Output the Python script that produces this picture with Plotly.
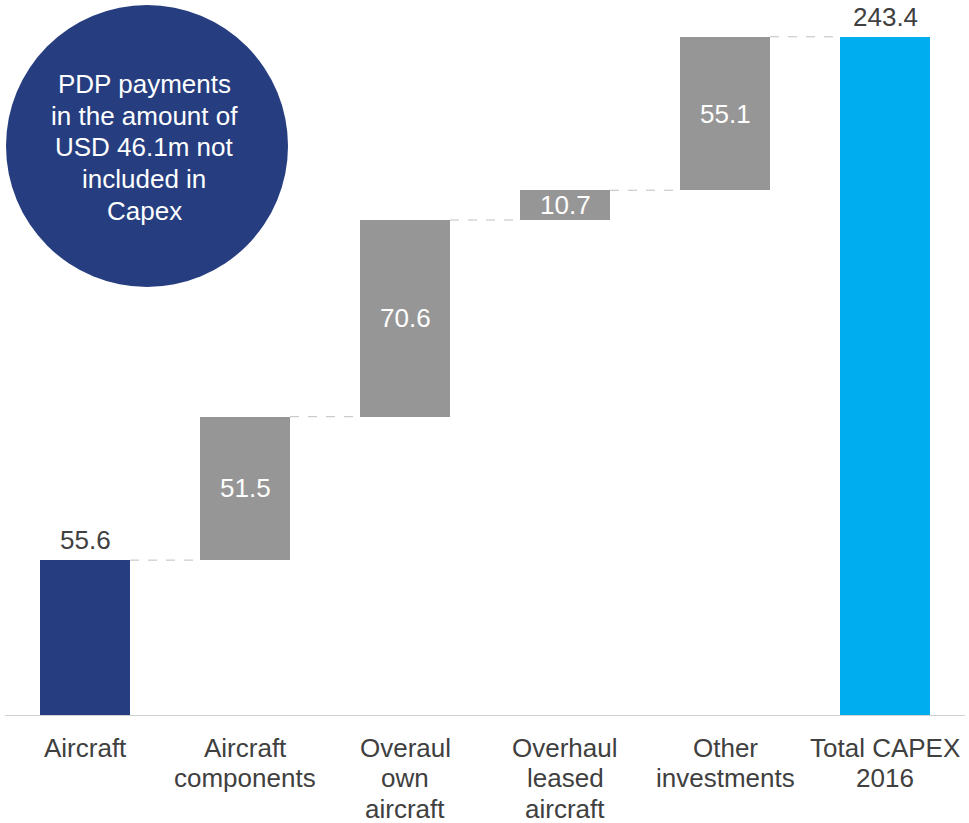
import plotly.graph_objects as go

# Capex bridge data (USD m)
categories = [["Aircraft"], ["Aircraft", "components"], ["Overaul", "own", "aircraft"],
              ["Overhaul", "leased", "aircraft"], ["Other", "investments"],
              ["Total CAPEX", "2016"]]
values = [55.6, 51.5, 70.6, 10.7, 55.1, 243.4]
kinds = ["total", "step", "step", "step", "step", "total"]
colors = ["#263E80", "#969696", "#969696", "#969696", "#969696", "#00AEEF"]
note_lines = ["PDP payments", "in the amount of", "USD 46.1m not", "included in", "Capex"]

FONT = "Arial, Liberation Sans, sans-serif"
TEXT_DARK = "#404040"
FS = 26
LINE_PX = 30.5
BAR_W = 0.5625
PLOT_H = 715  # plot area height in px (top margin 0)


def py(pixel_y):
    """Convert a pixel row (from top of figure) into paper y."""
    return (PLOT_H - pixel_y) / PLOT_H


# floating bar bases
bases, tops = [], []
running = 0.0
for v, k in zip(values, kinds):
    if k == "total":
        bases.append(0.0)
        tops.append(v)
        running = v
    else:
        bases.append(running)
        running += v
        tops.append(running)

xs = list(range(len(categories)))
heights = [t - b for t, b in zip(tops, bases)]

fig = go.Figure()
fig.add_trace(go.Bar(
    x=xs, y=heights, base=bases, width=BAR_W,
    marker=dict(color=colors, line=dict(width=0)),
    hoverinfo="skip",
))

# dashed connectors between consecutive bars
for i in range(len(xs) - 1):
    level = tops[i]
    fig.add_shape(type="line", xref="x", yref="y",
                  x0=xs[i] + BAR_W / 2, x1=xs[i + 1] - BAR_W / 2,
                  y0=level, y1=level,
                  line=dict(color="#BFBFBF", width=1, dash="dash"))

# value labels
for i, (v, k) in enumerate(zip(values, kinds)):
    if k == "total":
        fig.add_annotation(x=xs[i], y=tops[i], text=f"{v:.1f}", showarrow=False,
                           yanchor="middle", yshift=20,
                           font=dict(family=FONT, size=FS, color=TEXT_DARK))
    else:
        fig.add_annotation(x=xs[i], y=(bases[i] + tops[i]) / 2, text=f"{v:.1f}",
                           showarrow=False, yanchor="middle",
                           font=dict(family=FONT, size=FS, color="white"))

# category labels, one annotation per line for tight line spacing
for i, lines in enumerate(categories):
    for j, line in enumerate(lines):
        fig.add_annotation(x=xs[i], xref="x", yref="paper",
                           y=py(747.5 + j * LINE_PX),
                           text=line, showarrow=False, yanchor="middle", borderpad=0,
                           font=dict(family=FONT, size=FS, color=TEXT_DARK))

# note bubble
fig.add_shape(type="circle", xref="paper", yref="paper",
              x0=1 / 960, x1=283 / 960, y0=py(287), y1=py(5),
              fillcolor="#263E80", line=dict(width=0), layer="above")
for j, line in enumerate(note_lines):
    fig.add_annotation(xref="paper", yref="paper", x=139 / 960, y=py(84 + j * 31.75),
                       text=line, showarrow=False, xanchor="center", yanchor="middle",
                       font=dict(family=FONT, size=FS, color="white"))

fig.update_layout(
    width=969, height=823,
    margin=dict(l=5, r=4, t=0, b=108),
    paper_bgcolor="white", plot_bgcolor="white",
    showlegend=False,
    bargap=0,
    font=dict(family=FONT, size=FS, color=TEXT_DARK),
    xaxis=dict(range=[-0.5, 5.5], tickvals=xs, showticklabels=False,
               showgrid=False, zeroline=False, showline=True,
               linecolor="#D0D0D0", linewidth=1, ticks=""),
    yaxis=dict(range=[0, 256.7], visible=False, showgrid=False, zeroline=False),
)

fig.write_html("out.html")
